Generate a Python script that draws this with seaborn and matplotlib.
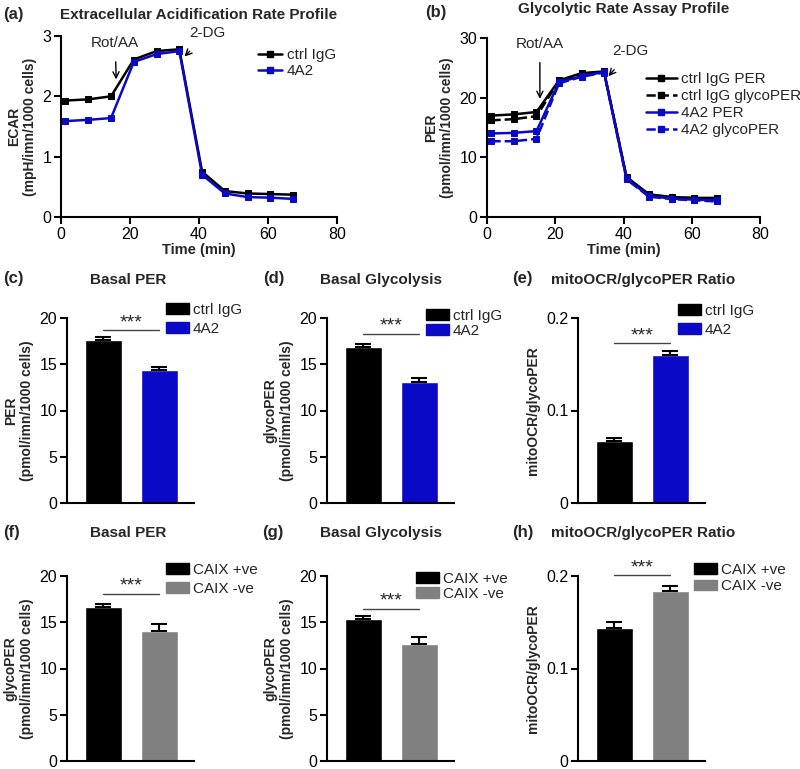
import numpy as np
import pandas as pd
import matplotlib
matplotlib.use('Agg')
import matplotlib.pyplot as plt
import seaborn as sns
from matplotlib.patches import Patch
from matplotlib.lines import Line2D

# ---------------- data ----------------
time_min = [1.3, 7.9, 14.5, 21.1, 27.7, 34.3, 40.9, 47.5, 54.1, 60.7, 67.3]

ecar_ctrl = [1.93, 1.95, 2.00, 2.61, 2.75, 2.78, 0.75, 0.43, 0.39, 0.38, 0.37]
ecar_4a2 = [1.59, 1.61, 1.64, 2.57, 2.70, 2.75, 0.70, 0.39, 0.33, 0.32, 0.30]

per_ctrl = [17.0, 17.2, 17.6, 22.9, 24.1, 24.4, 6.7, 3.8, 3.35, 3.2, 3.2]
glyco_ctrl = [16.2, 16.4, 16.9, 22.8, 24.0, 24.3, 6.6, 3.7, 3.3, 3.15, 3.1]
per_4a2 = [14.0, 14.1, 14.4, 22.6, 23.6, 24.3, 6.4, 3.5, 3.1, 2.9, 2.8]
glyco_4a2 = [12.7, 12.7, 13.1, 22.4, 23.5, 24.2, 6.3, 3.4, 3.0, 2.8, 2.6]

groups_ab = ['ctrl IgG', '4A2']
groups_caix = ['CAIX +ve', 'CAIX -ve']

basal_per_ab = [17.6, 14.4]
basal_per_ab_err = [0.3, 0.35]
basal_gly_ab = [16.9, 13.1]
basal_gly_ab_err = [0.3, 0.4]
ratio_ab = [0.067, 0.160]
ratio_ab_err = [0.003, 0.0045]

basal_per_caix = [16.65, 14.1]
basal_per_caix_err = [0.35, 0.7]
basal_gly_caix = [15.3, 12.7]
basal_gly_caix_err = [0.35, 0.7]
ratio_caix = [0.144, 0.1834]
ratio_caix_err = [0.006, 0.0056]

BLUE = '#0a0ac6'
GREY = '#808080'
W, H = 800, 769

sns.set_style('ticks')
plt.rcParams['font.family'] = ['Liberation Sans', 'DejaVu Sans']
plt.rcParams['axes.linewidth'] = 1.5
plt.rcParams['xtick.major.width'] = 1.5
plt.rcParams['ytick.major.width'] = 1.5
plt.rcParams['xtick.major.size'] = 5
plt.rcParams['ytick.major.size'] = 5
plt.rcParams['xtick.labelsize'] = 11.5
plt.rcParams['ytick.labelsize'] = 11.5

fig = plt.figure(figsize=(W / 100, H / 100), dpi=100)


def rect(l, r, t, b):
    return [l / W, 1 - b / H, (r - l) / W, (b - t) / H]


def style_axis(ax):
    sns.despine(ax=ax)
    ax.tick_params(axis='both', colors='black', direction='out', pad=2)
    for s in ['left', 'bottom']:
        ax.spines[s].set_color('black')


def fig_text(x, y, s, **kw):
    fig.text(x / W, 1 - y / H, s, **kw)


def line_panel(ax, series, ylim, yticks, ylabel):
    for vals, color, ls, label in series:
        sns.lineplot(x=time_min, y=vals, ax=ax, color=color, linestyle=ls,
                     marker='s', markersize=5, markeredgecolor=color,
                     linewidth=1.8, label=label, legend=False)
    ax.set_xlim(0, 80)
    ax.set_ylim(*ylim)
    ax.set_xticks([0, 20, 40, 60, 80])
    ax.set_yticks(yticks)
    ax.set_yticklabels([str(t) for t in yticks])
    ax.set_xlabel('Time (min)', fontsize=10.5, fontweight='bold', labelpad=1)
    ax.set_ylabel(ylabel, fontsize=10, fontweight='bold', labelpad=4)
    style_axis(ax)


def bar_panel(ax, groups, vals, errs, colors, ylim, yticks, yticklabels, ylabel,
              sig_y, star_y):
    df = pd.DataFrame({'group': groups, 'value': vals})
    sns.barplot(data=df, x='group', y='value', hue='group', palette=colors,
                saturation=1, width=0.67, ax=ax, legend=False, errorbar=None)
    for i, (v, e) in enumerate(zip(vals, errs)):
        ax.errorbar(i, v, yerr=[[0], [e]], color='black', capsize=6, capthick=1.5,
                    elinewidth=1.5, fmt='none')
    ax.plot([0, 1], [sig_y, sig_y], color='#444444', lw=1, clip_on=False)
    ax.text(0.5, star_y, '***', ha='center', va='center', fontsize=14)
    ax.set_xlim(-0.65, 1.62)
    ax.set_ylim(*ylim)
    ax.set_yticks(yticks)
    ax.set_yticklabels(yticklabels)
    ax.set_xticks([])
    ax.set_xlabel('')
    ax.set_ylabel(ylabel, fontsize=10, fontweight='bold', labelpad=4)
    style_axis(ax)


def bar_legend(ax, groups, colors, x, y, spacing):
    handles = [Patch(facecolor=c, edgecolor=c) for c in colors]
    ax.legend(handles, groups, loc='upper left', bbox_to_anchor=(x / W, 1 - y / H),
              bbox_transform=fig.transFigure, frameon=False, fontsize=11,
              handlelength=1.5, handleheight=0.7, handletextpad=0.25,
              labelspacing=spacing, borderpad=0, borderaxespad=0)


# ---------------- (a) ECAR ----------------
ax_a = fig.add_axes(rect(61, 337, 36, 217))
line_panel(ax_a, [(ecar_ctrl, 'black', '-', 'ctrl IgG'),
                  (ecar_4a2, BLUE, '-', '4A2')],
           (0, 3), [0, 1, 2, 3], 'ECAR\n(mpH/imn/1000 cells)')
ax_a.annotate('Rot/AA', xy=(16, 2.28), xytext=(15.7, 2.88), ha='center', va='center',
              fontsize=11, arrowprops=dict(arrowstyle='->', lw=1, color='black',
                                           shrinkA=6, shrinkB=0))
ax_a.annotate('2-DG', xy=(35.8, 2.66), xytext=(42.5, 3.05), ha='center', va='center',
              fontsize=11, annotation_clip=False,
              arrowprops=dict(arrowstyle='->', lw=1, color='black',
                              shrinkA=8, shrinkB=0))
ax_a.legend(handles=[Line2D([], [], color='black', marker='s', markersize=5, lw=1.8),
                     Line2D([], [], color=BLUE, marker='s', markersize=5, lw=1.8)],
            labels=['ctrl IgG', '4A2'], loc='upper left',
            bbox_to_anchor=(258 / W, 1 - 48 / H), bbox_transform=fig.transFigure,
            frameon=False, fontsize=11, handlelength=1.6, handletextpad=0.3,
            labelspacing=0.15, borderpad=0, borderaxespad=0)
ax_a.set_title('Extracellular Acidification Rate Profile', fontsize=11,
               fontweight='bold', pad=12)

# ---------------- (b) PER ----------------
ax_b = fig.add_axes(rect(487, 760, 38, 217))
series_b = [(per_ctrl, 'black', '-', 'ctrl IgG PER'),
            (glyco_ctrl, 'black', '--', 'ctrl IgG glycoPER'),
            (per_4a2, BLUE, '-', '4A2 PER'),
            (glyco_4a2, BLUE, '--', '4A2 glycoPER')]
line_panel(ax_b, series_b, (0, 30), [0, 10, 20, 30], 'PER\n(pmol/imn/1000 cells)')
ax_b.annotate('Rot/AA', xy=(15.5, 19.8), xytext=(15.5, 29.0), ha='center', va='center',
              fontsize=11, arrowprops=dict(arrowstyle='->', lw=1, color='black',
                                           shrinkA=6, shrinkB=0))
ax_b.annotate('2-DG', xy=(35.6, 23.6), xytext=(42.0, 27.8), ha='center', va='center',
              fontsize=11, arrowprops=dict(arrowstyle='->', lw=1, color='black',
                                           shrinkA=8, shrinkB=0))
ax_b.legend(handles=[Line2D([], [], color=c, ls=ls, marker='s', markersize=5, lw=1.8)
                     for _, c, ls, _ in series_b],
            labels=[s[3] for s in series_b], loc='upper left',
            bbox_to_anchor=(646 / W, 1 - 72 / H), bbox_transform=fig.transFigure,
            frameon=False, fontsize=11, handlelength=2.0, handletextpad=0.3,
            labelspacing=0.2, borderpad=0, borderaxespad=0)
ax_b.set_title('Glycolytic Rate Assay Profile', fontsize=11, fontweight='bold', pad=18)

# ---------------- bar rows ----------------
cols_x = [(67, 194), (327, 454), (578, 705)]
rows_y = [(318, 503), (576, 761)]
per_ticks = [0, 5, 10, 15, 20]
ratio_ticks = [0, 0.1, 0.2]
ratio_lbls = ['0', '0.1', '0.2']

# (c)
ax_c = fig.add_axes(rect(*cols_x[0], *rows_y[0]))
bar_panel(ax_c, groups_ab, basal_per_ab, basal_per_ab_err, ['black', BLUE], (0, 20),
          per_ticks, [str(t) for t in per_ticks], 'PER\n(pmol/imn/1000 cells)', 18.7, 19.5)
bar_legend(ax_c, groups_ab, ['black', BLUE], 166, 303, 0.3)
# (d)
ax_d = fig.add_axes(rect(*cols_x[1], *rows_y[0]))
bar_panel(ax_d, groups_ab, basal_gly_ab, basal_gly_ab_err, ['black', BLUE], (0, 20),
          per_ticks, [str(t) for t in per_ticks], 'glycoPER\n(pmol/imn/1000 cells)', 18.3, 19.1)
bar_legend(ax_d, groups_ab, ['black', BLUE], 426, 309, 0.05)
# (e)
ax_e = fig.add_axes(rect(*cols_x[2], *rows_y[0]))
bar_panel(ax_e, groups_ab, ratio_ab, ratio_ab_err, ['black', BLUE], (0, 0.2),
          ratio_ticks, ratio_lbls, 'mitoOCR/glycoPER', 0.173, 0.181)
bar_legend(ax_e, groups_ab, ['black', BLUE], 678, 304, 0.3)
# (f)
ax_f = fig.add_axes(rect(*cols_x[0], *rows_y[1]))
bar_panel(ax_f, groups_caix, basal_per_caix, basal_per_caix_err, ['black', GREY], (0, 20),
          per_ticks, [str(t) for t in per_ticks], 'glycoPER\n(pmol/imn/1000 cells)', 18.1, 18.9)
bar_legend(ax_f, groups_caix, ['black', GREY], 166, 563, 0.3)
# (g)
ax_g = fig.add_axes(rect(*cols_x[1], *rows_y[1]))
bar_panel(ax_g, groups_caix, basal_gly_caix, basal_gly_caix_err, ['black', GREY], (0, 20),
          per_ticks, [str(t) for t in per_ticks], 'glycoPER\n(pmol/imn/1000 cells)', 16.45, 17.25)
bar_legend(ax_g, groups_caix, ['black', GREY], 416, 572, 0.05)
# (h)
ax_h = fig.add_axes(rect(*cols_x[2], *rows_y[1]))
bar_panel(ax_h, groups_caix, ratio_caix, ratio_caix_err, ['black', GREY], (0, 0.2),
          ratio_ticks, ratio_lbls, 'mitoOCR/glycoPER', 0.2007, 0.2087)
bar_legend(ax_h, groups_caix, ['black', GREY], 694, 563, 0.15)

# ---------------- titles and panel letters ----------------
bar_titles = [(128, 280, 'Basal PER'), (381, 280, 'Basal Glycolysis'),
              (643, 280, 'mitoOCR/glycoPER Ratio'), (128, 533, 'Basal PER'),
              (381, 533, 'Basal Glycolysis'), (643, 533, 'mitoOCR/glycoPER Ratio')]
for x, y, s in bar_titles:
    fig_text(x, y, s, ha='center', va='center', fontsize=11, fontweight='bold')

letters = [(3, 14, '(a)'), (425, 12, '(b)'), (3, 278, '(c)'), (263, 278, '(d)'),
           (512, 278, '(e)'), (3, 533, '(f)'), (262, 533, '(g)'), (512, 533, '(h)')]
for x, y, s in letters:
    fig_text(x, y, s, ha='left', va='center', fontsize=12, fontweight='bold')

fig.savefig('out.png', dpi=100, facecolor='white')
